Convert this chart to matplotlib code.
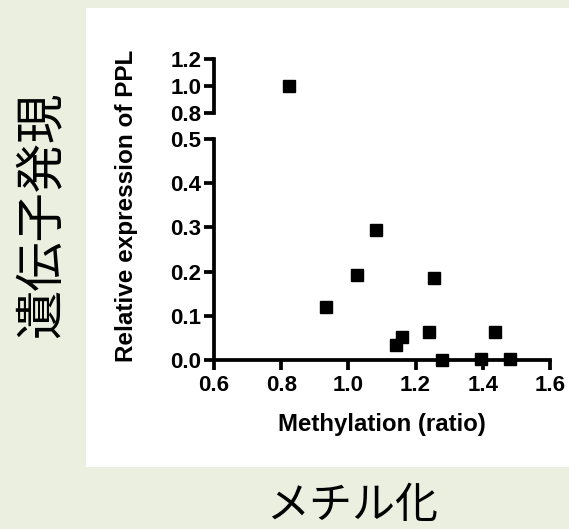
import matplotlib
matplotlib.use("Agg")
import matplotlib.pyplot as plt
import numpy as np
from matplotlib.patches import Rectangle
from matplotlib.ticker import FixedLocator

# ---- data ----
methylation = np.array([0.823, 0.932, 1.025, 1.082, 1.255, 1.141, 1.159, 1.241, 1.279, 1.395, 1.435, 1.482])
expression = np.array([1.000, 0.120, 0.193, 0.293, 0.185, 0.033, 0.053, 0.063, 0.000, 0.003, 0.063, 0.003])
x_ticks = [0.6, 0.8, 1.0, 1.2, 1.4, 1.6]
y_ticks_low = [0.0, 0.1, 0.2, 0.3, 0.4, 0.5]
y_ticks_high = [0.8, 1.0, 1.2]
x_label = "Methylation (ratio)"
y_label = "Relative expression of PPL"
outer_x_label = "メチル化"
outer_y_label = "遺伝子発現"

W, H = 569, 529
fig = plt.figure(figsize=(W / 100, H / 100), dpi=100)
bg = "#ebefe0"
fig.patch.set_facecolor(bg)

# white panel
fig.patches.append(Rectangle((86 / W, 1 - 467 / H), (W - 86) / W, (467 - 8) / H,
                             transform=fig.transFigure, facecolor="white",
                             edgecolor="none", zorder=-10))

en_font = dict(family="Liberation Sans", weight="bold")
tick_fs = 16
lw = 2.7

ax_left = 214 / W
ax_w = (550 - 214) / W
low = fig.add_axes([ax_left, 1 - 360 / H, ax_w, (360 - 139) / H])
high = fig.add_axes([ax_left, 1 - 113 / H, ax_w, (113 - 59.4) / H], sharex=low)

for ax in (low, high):
    ax.set_facecolor("none")
    for s in ("top", "right"):
        ax.spines[s].set_visible(False)
    for s in ("left", "bottom"):
        ax.spines[s].set_linewidth(lw)
        ax.spines[s].set_color("black")
        ax.spines[s].set_zorder(3)
    ax.tick_params(axis="both", which="major", direction="out", length=7.5,
                   width=lw, color="black", pad=1.5)

high.spines["bottom"].set_visible(False)
high.tick_params(axis="x", which="both", bottom=False, labelbottom=False)

low.set_xlim(0.6, 1.6)
low.set_ylim(0.0, 0.5)
high.set_ylim(0.8, 1.2)
low.set_xticks(x_ticks)
low.set_xticklabels([f"{v:.1f}" for v in x_ticks], **en_font, fontsize=tick_fs)
low.set_yticks(y_ticks_low)
low.set_yticklabels([f"{v:.1f}" for v in y_ticks_low], **en_font, fontsize=tick_fs)
high.set_yticks(y_ticks_high)
high.set_yticklabels([f"{v:.1f}" for v in y_ticks_high], **en_font, fontsize=tick_fs)
low.tick_params(axis="x", pad=3.5)

# caps at the break ends
low.yaxis.set_minor_locator(FixedLocator([0.5]))
high.yaxis.set_minor_locator(FixedLocator([0.8]))
for ax in (low, high):
    ax.tick_params(axis="y", which="minor", direction="in", length=3.5, width=lw)
    ax.tick_params(axis="x", which="minor", bottom=False)

mask_low = expression <= 0.5
mask_high = expression >= 0.8
low.plot(methylation[mask_low], expression[mask_low], linestyle="none", marker="s",
         markersize=8.5, color="black", clip_on=False, zorder=5)
high.plot(methylation[mask_high], expression[mask_high], linestyle="none", marker="s",
          markersize=8.5, color="black", clip_on=False, zorder=5)

fig.text(382 / W, 1 - 425 / H, x_label, ha="center", va="center", fontsize=17.3, **en_font)
fig.text(127 / W, 1 - 206 / H, y_label, ha="center", va="center", rotation=90,
         fontsize=17.5, **en_font)

jp_font = ["Noto Sans CJK JP", "DejaVu Sans"]
fig.text(352 / W, 1 - 506 / H, outer_x_label, ha="center", va="center",
         fontsize=31, family=jp_font)
fig.text(41 / W, 1 - 215 / H, outer_y_label, ha="center", va="center",
         rotation=90, fontsize=35.5, family=jp_font)

fig.savefig("out.png", dpi=100, facecolor=bg)
